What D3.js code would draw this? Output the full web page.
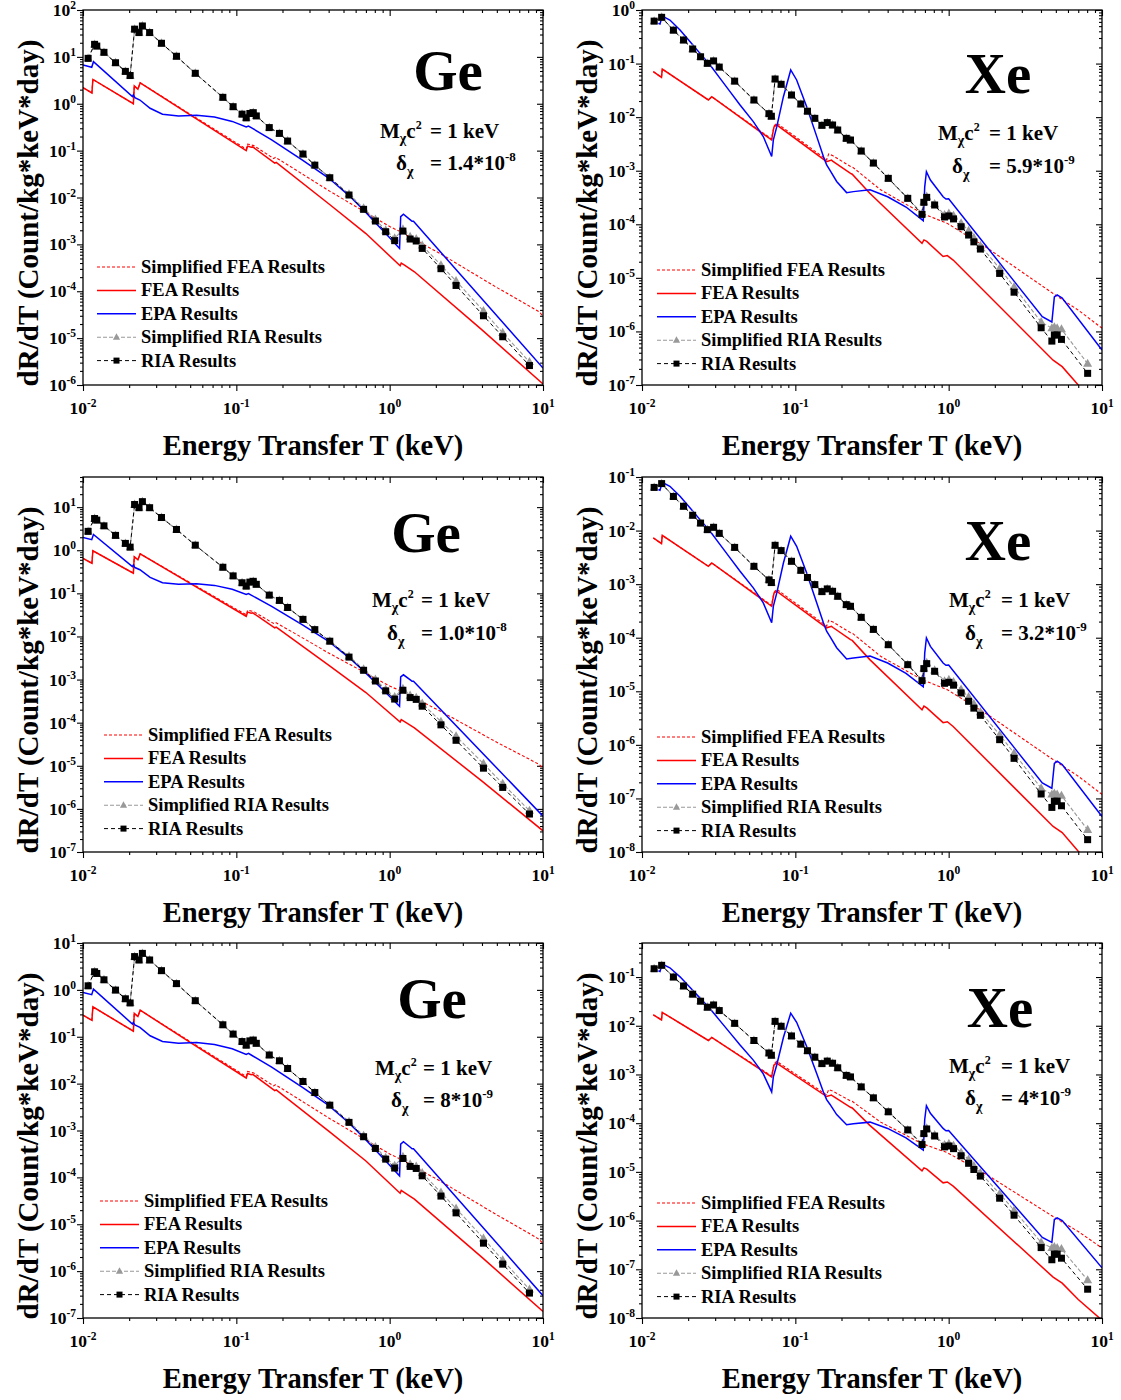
<!DOCTYPE html>
<html><head><meta charset="utf-8">
<script src="https://cdn.jsdelivr.net/npm/d3@7"></script>
<style>
body{margin:0;background:#fff;}
svg{display:block;}
text{font-family:"Liberation Serif","Times New Roman",serif;font-weight:bold;fill:#000;}
</style></head><body>
<svg id="chart" width="1121" height="1400"></svg>
<script>
// ---------------- Ge data (energy transfer T in keV) ----------------
const geSfeaT = [0.01,0.01143,0.0116,0.0213,0.0216,0.0228,0.0236,0.05,0.116,0.1185,0.13,0.175,0.18,0.25,0.408,0.7,1.0,1.2,2.2,5,8,9.5,10];
const geFeaT  = [0.01,0.01143,0.0116,0.0213,0.0216,0.0228,0.0236,0.05,0.116,0.1185,0.125,0.128,0.178,0.182,0.408,0.7,1.17,1.19,1.25,1.45,4,10];
const geEpaT  = [0.01,0.0114,0.0117,0.021,0.0213,0.0218,0.0235,0.0274,0.033,0.042,0.055,0.072,0.094,0.116,0.12,0.125,0.17,0.27,0.4,0.543,0.676,0.807,0.942,1.16,1.18,1.23,1.37,1.4,1.43,10];
const geRiaT  = [0.0108,0.0119,0.0123,0.0137,0.0163,0.0189,0.0203,0.0217,0.0232,0.0244,0.0272,0.0325,0.0407,0.054,0.0817,0.0953,0.109,0.116,0.1225,0.129,0.135,0.164,0.191,0.216,0.272,0.325,0.407,0.543,0.676,0.807,0.942,1.078,1.22,1.36,1.49,1.63,2.16,2.71,4.09,5.46,8.16];

// Ge, delta = 1.4e-8
const ge14Sfea = [2.2,1.7,3.3,1.0,2.4,2.05,2.8,0.6,0.108,0.138,0.128,0.068,0.072,0.037,0.0135,0.0048,0.0024,0.0018,6e-4,1.2e-4,5e-5,3.6e-5,2.9e-5];
const ge14Fea  = [2.2,1.7,3.3,1.0,2.4,2.05,2.8,0.58,0.10,0.125,0.118,0.12,0.054,0.056,0.0070,0.0017,3.5e-4,4.0e-4,3.6e-4,2.6e-4,1.5e-5,1.05e-6];
const ge14Epa  = [6.7,6.0,7.9,1.42,1.55,1.35,1.2,0.80,0.6,0.55,0.57,0.52,0.42,0.32,0.335,0.31,0.17,0.063,0.026,0.011,0.0054,0.0029,0.0017,8.2e-4,0.0039,0.0044,0.0033,0.0031,0.0031,2.3e-6];
const ge14Sria = [9.3,18.5,17,12.5,7.5,4.9,4.0,39,33,45.6,33,19.5,10.3,4.46,1.37,0.865,0.60,0.50,0.62,0.645,0.55,0.31,0.233,0.160,0.0846,0.049,0.0264,0.0118,0.0059,0.0034,0.0020,0.00135,0.0021,0.00145,0.0013,0.00095,0.00036,0.000165,3.8e-5,1.3e-5,3.1e-6];
const ge14Ria  = [9.3,18.5,17,12.5,7.5,4.9,4.0,39,33,45.6,33,19.5,10.3,4.46,1.37,0.865,0.60,0.50,0.62,0.645,0.55,0.31,0.233,0.160,0.0846,0.049,0.0264,0.0113,0.00559,0.00315,0.00186,0.0012,0.00192,0.0013,0.00118,0.00082,0.000303,0.000133,3.0e-5,1.07e-5,2.6e-6];

// Ge, delta = 1.0e-8
const ge10Sfea = [0.647,0.5,0.97,0.294,0.706,0.603,0.824,0.176,0.0318,0.0406,0.0376,0.02,0.0212,0.0109,0.00397,0.00141,0.000706,0.00053,0.000176,3.5e-5,1.47e-5,1.06e-5,8.5e-6];
const ge10Fea  = [0.647,0.5,0.97,0.294,0.706,0.603,0.824,0.171,0.0294,0.0368,0.0347,0.0353,0.0159,0.0165,0.00206,0.0005,1.03e-4,1.18e-4,1.06e-4,7.6e-5,4.4e-6,3.1e-7];
const ge10Epa  = [1.97,1.76,2.32,0.418,0.456,0.397,0.353,0.235,0.176,0.162,0.168,0.153,0.124,0.094,0.0985,0.091,0.05,0.0185,0.00765,0.00324,0.00159,0.000853,0.0005,0.000241,0.00115,0.00129,0.00097,0.00091,0.00091,6.8e-7];
const ge10Sria = [2.74,5.44,5.0,3.68,2.21,1.44,1.18,11.5,9.7,13.4,9.7,5.74,3.03,1.31,0.403,0.254,0.176,0.147,0.182,0.19,0.162,0.091,0.0685,0.047,0.0249,0.0144,0.00776,0.00347,0.00174,0.001,0.000588,0.000397,0.000618,0.000426,0.000382,0.000279,0.000106,4.85e-5,1.12e-5,3.82e-6,9.1e-7];
const ge10Ria  = [2.74,5.44,5.0,3.68,2.21,1.44,1.18,11.5,9.7,13.4,9.7,5.74,3.03,1.31,0.403,0.254,0.176,0.147,0.182,0.19,0.162,0.091,0.0685,0.047,0.0249,0.0144,0.00776,0.00332,0.00164,0.000926,0.000547,0.000353,0.000565,0.000382,0.000347,0.000241,8.9e-5,3.9e-5,8.8e-6,3.15e-6,7.6e-7];

// Ge, delta = 8e-9
const ge08Sfea = [0.289,0.224,0.434,0.132,0.316,0.27,0.368,0.079,0.0142,0.0182,0.0168,0.00895,0.00947,0.00487,0.00178,0.00063,0.000316,0.000237,7.9e-5,1.58e-5,6.6e-6,4.7e-6,3.8e-6];
const ge08Fea  = [0.289,0.224,0.434,0.132,0.316,0.27,0.368,0.0763,0.0132,0.0164,0.0155,0.0158,0.0071,0.00737,0.00092,0.000224,4.6e-5,5.26e-5,4.74e-5,3.42e-5,1.97e-6,1.38e-7];
const ge08Epa  = [0.88,0.79,1.04,0.187,0.204,0.178,0.158,0.105,0.079,0.0724,0.075,0.0684,0.0553,0.0421,0.0441,0.0408,0.0224,0.0083,0.00342,0.00145,0.00071,0.000382,0.000224,0.000108,0.000513,0.000579,0.000434,0.000408,0.000408,3.0e-7];
const ge08Sria = [1.22,2.43,2.24,1.64,0.99,0.645,0.526,5.13,4.34,6.0,4.34,2.57,1.36,0.587,0.180,0.114,0.079,0.066,0.0816,0.0849,0.0724,0.0408,0.0307,0.021,0.0111,0.00645,0.00347,0.00155,0.000776,0.000447,0.000263,0.000178,0.000276,0.000191,0.000171,0.000125,4.74e-5,2.17e-5,5.0e-6,1.71e-6,4.08e-7];
const ge08Ria  = [1.22,2.43,2.24,1.64,0.99,0.645,0.526,5.13,4.34,6.0,4.34,2.57,1.36,0.587,0.180,0.114,0.079,0.066,0.0816,0.0849,0.0724,0.0408,0.0307,0.021,0.0111,0.00645,0.00347,0.00149,0.000736,0.000414,0.000245,0.000158,0.000253,0.000171,0.000155,0.000108,3.99e-5,1.75e-5,3.95e-6,1.41e-6,3.4e-7];

// ---------------- Xe data ----------------
const xeSfeaT = [0.01185,0.0134,0.01356,0.0271,0.0285,0.0701,0.0708,0.0726,0.0755,0.16,0.165,0.176,0.229,0.235,0.36,0.67,0.98,1.8,4.8,7,10];
const xeFeaT  = [0.01185,0.0134,0.01356,0.0271,0.0285,0.0701,0.0708,0.0726,0.0755,0.16,0.172,0.176,0.229,0.235,0.306,0.67,0.69,0.72,0.92,0.98,1.07,4.8,5.5,7.0,10];
const xeEpaT  = [0.01277,0.0131,0.01355,0.0152,0.0177,0.0206,0.0239,0.0278,0.0323,0.0375,0.0436,0.0532,0.0618,0.0701,0.0719,0.0757,0.0836,0.0933,0.102,0.1186,0.138,0.1524,0.16,0.168,0.186,0.216,0.239,0.307,0.40,0.527,0.683,0.698,0.716,0.76,0.92,0.96,1.0,4.08,4.71,4.89,5.1,5.5,10];
const xeRiaT  = [0.0120,0.01343,0.01603,0.01866,0.0214,0.0241,0.0267,0.0293,0.0319,0.0402,0.0537,0.0673,0.0698,0.0738,0.0808,0.0944,0.1086,0.120,0.134,0.149,0.1615,0.175,0.189,0.215,0.229,0.269,0.323,0.404,0.541,0.67,0.689,0.719,0.81,0.94,1.003,1.076,1.205,1.349,1.46,1.61,2.15,2.67,4.01,4.71,4.89,5.1,5.44,8.06];

// Xe, delta = 5.9e-9
const xe59Sfea = [0.0706,0.0553,0.079,0.0209,0.0241,0.0039,0.0047,0.0068,0.0078,0.0016,0.00206,0.0019,0.0012,0.00118,4.4e-4,1.6e-4,1.04e-4,3.55e-5,5.1e-6,2.5e-6,1.15e-6];
const xe59Fea  = [0.0706,0.0553,0.079,0.0209,0.0241,0.00374,0.0045,0.0066,0.0072,0.00148,0.00158,0.0015,8.9e-4,8.6e-4,3.8e-4,4.4e-5,5.1e-5,4.8e-5,2.5e-5,2.6e-5,2.15e-5,2.9e-7,2.2e-7,1.0e-7,3.8e-8];
const xe59Epa  = [0.564,0.548,0.773,0.65,0.424,0.256,0.155,0.094,0.053,0.03,0.0169,0.00826,0.00434,0.00184,0.00376,0.00665,0.0241,0.076,0.0494,0.0157,0.00433,0.00184,0.00128,0.00103,6.3e-4,3.9e-4,4.07e-4,4.4e-4,3.27e-4,2.1e-4,1.17e-4,5e-4,9.6e-4,6.7e-4,3.27e-4,2.96e-4,3.0e-4,1.88e-6,1.5e-6,4.4e-6,4.8e-6,4.2e-6,4.5e-7];
const xe59Sria = [0.62,0.73,0.42,0.275,0.187,0.134,0.101,0.112,0.086,0.047,0.0209,0.0116,0.0104,0.0515,0.041,0.0259,0.0176,0.0129,0.0095,0.00703,0.0079,0.00713,0.00575,0.00402,0.00374,0.00233,0.00139,7.2e-4,3.05e-4,1.6e-4,2.6e-4,3.3e-4,2.4e-4,1.5e-4,1.6e-4,1.45e-4,1.05e-4,7.6e-5,5.6e-5,4.0e-5,1.5e-5,6.8e-6,1.5e-6,1.15e-6,1.2e-6,1.15e-6,1.1e-6,2.5e-7];
const xe59Ria  = [0.62,0.73,0.42,0.275,0.187,0.134,0.101,0.112,0.086,0.047,0.0209,0.0116,0.0104,0.0515,0.041,0.0259,0.0176,0.0129,0.0095,0.00703,0.0079,0.00713,0.00575,0.00402,0.00374,0.00233,0.00139,7.2e-4,3.05e-4,1.53e-4,2.57e-4,3.18e-4,2.29e-4,1.37e-4,1.43e-4,1.26e-4,9.0e-5,6.3e-5,4.7e-5,3.45e-5,1.21e-5,5.4e-6,1.17e-6,6.6e-7,8.6e-7,8.6e-7,7.1e-7,1.65e-7];

// Xe, delta = 3.2e-9
const xe32Sfea = [0.00728,0.0057,0.00814,0.00215,0.00248,0.000402,0.000485,0.000701,0.000804,0.000165,0.000212,0.000196,0.000124,0.000122,4.5e-5,1.65e-5,1.07e-5,3.66e-6,5.3e-7,2.6e-7,1.19e-7];
const xe32Fea  = [0.00728,0.0057,0.00814,0.00215,0.00248,0.000386,0.000464,0.00068,0.000742,0.000153,0.000163,0.000155,9.2e-5,8.9e-5,3.9e-5,4.5e-6,5.3e-6,4.9e-6,2.6e-6,2.7e-6,2.2e-6,3.0e-8,2.3e-8,1.03e-8,3.9e-9];
const xe32Epa  = [0.0581,0.0565,0.0797,0.067,0.0437,0.0264,0.016,0.0097,0.00546,0.00309,0.00174,0.000852,0.000447,0.00019,0.000388,0.000686,0.00248,0.00784,0.00509,0.00162,0.000446,0.00019,0.000132,0.000106,6.5e-5,4.02e-5,4.2e-5,4.54e-5,3.37e-5,2.16e-5,1.21e-5,5.15e-5,9.9e-5,6.9e-5,3.37e-5,3.05e-5,3.09e-5,1.94e-7,1.55e-7,4.5e-7,4.95e-7,4.3e-7,4.6e-8];
const xe32Sria = [0.0639,0.0753,0.0433,0.0284,0.0193,0.0138,0.0104,0.0115,0.00887,0.00485,0.00215,0.0012,0.00107,0.00531,0.00423,0.00267,0.00181,0.00133,0.00098,0.000725,0.000814,0.000735,0.000593,0.000414,0.000386,0.00024,0.000143,7.4e-5,3.14e-5,1.65e-5,2.68e-5,3.4e-5,2.47e-5,1.55e-5,1.65e-5,1.49e-5,1.08e-5,7.8e-6,5.8e-6,4.1e-6,1.55e-6,7.0e-7,1.55e-7,1.19e-7,1.24e-7,1.19e-7,1.13e-7,2.6e-8];
const xe32Ria  = [0.0639,0.0753,0.0433,0.0284,0.0193,0.0138,0.0104,0.0115,0.00887,0.00485,0.00215,0.0012,0.00107,0.00531,0.00423,0.00267,0.00181,0.00133,0.00098,0.000725,0.000814,0.000735,0.000593,0.000414,0.000386,0.00024,0.000143,7.4e-5,3.14e-5,1.58e-5,2.65e-5,3.28e-5,2.36e-5,1.41e-5,1.47e-5,1.3e-5,9.3e-6,6.5e-6,4.85e-6,3.56e-6,1.25e-6,5.6e-7,1.21e-7,6.8e-8,8.9e-8,8.9e-8,7.3e-8,1.7e-8];

// Xe, delta = 4e-9
const xe40Sfea = [0.0168,0.0132,0.0188,0.00498,0.00574,0.00093,0.00112,0.00162,0.00186,0.00038,0.00049,0.000452,0.000286,0.000281,0.000105,3.8e-5,2.48e-5,8.5e-6,1.21e-6,5.95e-7,2.74e-7];
const xe40Fea  = [0.0168,0.0132,0.0188,0.00498,0.00574,0.00089,0.00107,0.00157,0.00171,0.000352,0.000376,0.000357,0.000212,0.000205,9.0e-5,1.05e-5,1.21e-5,1.14e-5,5.95e-6,6.2e-6,5.1e-6,6.9e-8,5.2e-8,2.4e-8,9.0e-9];
const xe40Epa  = [0.134,0.130,0.184,0.155,0.101,0.061,0.0369,0.0224,0.0126,0.00714,0.00402,0.00197,0.00103,0.000438,0.000895,0.00158,0.00574,0.0181,0.0118,0.00374,0.00103,0.000438,0.000305,0.000245,0.00015,9.3e-5,9.7e-5,0.000105,7.8e-5,5.0e-5,2.79e-5,0.000119,0.000229,0.00016,7.8e-5,7.0e-5,7.1e-5,4.5e-7,3.57e-7,1.05e-6,1.14e-6,1.0e-6,1.07e-7];
const xe40Sria = [0.148,0.174,0.1,0.0655,0.0445,0.0319,0.024,0.0267,0.0205,0.0112,0.00498,0.00276,0.00248,0.0123,0.00976,0.00617,0.00419,0.00307,0.00226,0.00167,0.00188,0.0017,0.00137,0.000957,0.00089,0.000555,0.000331,0.000171,7.26e-5,3.8e-5,6.2e-5,7.9e-5,5.7e-5,3.57e-5,3.8e-5,3.45e-5,2.5e-5,1.81e-5,1.33e-5,9.5e-6,3.57e-6,1.62e-6,3.57e-7,2.74e-7,2.86e-7,2.74e-7,2.62e-7,6.0e-8];
const xe40Ria  = [0.148,0.174,0.1,0.0655,0.0445,0.0319,0.024,0.0267,0.0205,0.0112,0.00498,0.00276,0.00248,0.0123,0.00976,0.00617,0.00419,0.00307,0.00226,0.00167,0.00188,0.0017,0.00137,0.000957,0.00089,0.000555,0.000331,0.000171,7.26e-5,3.64e-5,6.1e-5,7.6e-5,5.45e-5,3.26e-5,3.4e-5,3.0e-5,2.14e-5,1.5e-5,1.12e-5,8.2e-6,2.88e-6,1.29e-6,2.79e-7,1.57e-7,2.05e-7,2.05e-7,1.69e-7,3.9e-8];

// axis / legend text
const xTickValues = [0.01,0.1,1,10];
const legendLabels = ["Simplified FEA Results","FEA Results","EPA Results","Simplified RIA Results","RIA Results"];
const xTitle = "Energy Transfer T (keV)";
const yTitle = "dR/dT (Count/kg*keV*day)";

// ---------------- layout ----------------
const W = 460, H = 375;
const panels = [
  {el:"Ge", left:83,  top:10,  yDom:[1e-6,1e2], d:["1.4*10","-8"], T:[geSfeaT,geFeaT,geEpaT,geRiaT], Y:[ge14Sfea,ge14Fea,ge14Epa,ge14Sria,ge14Ria],
   elX:448, elY:90, mX:380, mY:138, dX:396, dY:170, eqX:430, legX:97, legY:267, ytX:38},
  {el:"Xe", left:642, top:10,  yDom:[1e-7,1e0], d:["5.9*10","-9"], T:[xeSfeaT,xeFeaT,xeEpaT,xeRiaT], Y:[xe59Sfea,xe59Fea,xe59Epa,xe59Sria,xe59Ria],
   elX:998, elY:93, mX:938, mY:140, dX:952, dY:173, eqX:989, legX:657, legY:270, ytX:597},
  {el:"Ge", left:83,  top:477, yDom:[1e-7,50], d:["1.0*10","-8"], T:[geSfeaT,geFeaT,geEpaT,geRiaT], Y:[ge10Sfea,ge10Fea,ge10Epa,ge10Sria,ge10Ria],
   elX:426, elY:552, mX:372, mY:607, dX:387, dY:640, eqX:421, legX:104, legY:735, ytX:38},
  {el:"Xe", left:642, top:477, yDom:[1e-8,1e-1], d:["3.2*10","-9"], T:[xeSfeaT,xeFeaT,xeEpaT,xeRiaT], Y:[xe32Sfea,xe32Fea,xe32Epa,xe32Sria,xe32Ria],
   elX:998, elY:560, mX:949, mY:607, dX:965, dY:640, eqX:1001, legX:657, legY:737, ytX:597},
  {el:"Ge", left:83,  top:943, yDom:[1e-7,1e1], d:["8*10","-9"], T:[geSfeaT,geFeaT,geEpaT,geRiaT], Y:[ge08Sfea,ge08Fea,ge08Epa,ge08Sria,ge08Ria],
   elX:432, elY:1018, mX:375, mY:1075, dX:391, dY:1107, eqX:423, legX:100, legY:1201, ytX:38},
  {el:"Xe", left:642, top:943, yDom:[1e-8,0.5], d:["4*10","-9"], T:[xeSfeaT,xeFeaT,xeEpaT,xeRiaT], Y:[xe40Sfea,xe40Fea,xe40Epa,xe40Sria,xe40Ria],
   elX:1000, elY:1027, mX:949, mY:1073, dX:965, dY:1105, eqX:1001, legX:657, legY:1203, ytX:597}
];

const styles = [
  {color:"#ff0000", width:1.1, dash:"3,2", marker:null},
  {color:"#ff0000", width:1.5, dash:null, marker:null},
  {color:"#0000ff", width:1.5, dash:null, marker:null},
  {color:"#999999", width:1.1, dash:"4,2", marker:"tri"},
  {color:"#000000", width:1.0, dash:"4,3", marker:"sq"}
];

const svg = d3.select("#chart");
const defs = svg.append("defs");

function powLabel(sel, exp, baseSize, expSize, rise){
  sel.append("tspan").attr("font-size", baseSize).text("10");
  sel.append("tspan").attr("font-size", expSize).attr("dy", -rise).text(exp);
}

function logTicks(lo, hi){
  const maj = [], min = [];
  for (let e = Math.floor(Math.log10(lo)) ; e <= Math.ceil(Math.log10(hi)); e++){
    for (let k = 1; k <= 9; k++){
      const v = k * Math.pow(10, e);
      if (v < lo*0.999 || v > hi*1.001) continue;
      if (k === 1) maj.push(v); else min.push(v);
    }
  }
  return {maj, min};
}

function drawMarker(g, type, cx, cy, size, color){
  if (type === "sq"){
    g.append("rect").attr("x", cx-size/2).attr("y", cy-size/2).attr("width", size).attr("height", size).attr("fill", color);
  } else if (type === "tri"){
    const s = size*0.6;
    g.append("path").attr("d", `M${cx},${cy-s*1.1}L${cx+s},${cy+s*0.7}L${cx-s},${cy+s*0.7}Z`).attr("fill", color);
  }
}

panels.forEach((p, i) => {
  const x = d3.scaleLog().domain([0.01, 10]).range([p.left, p.left + W]);
  const y = d3.scaleLog().domain(p.yDom).range([p.top + H, p.top]);
  const cid = "clip" + i;
  defs.append("clipPath").attr("id", cid).append("rect")
    .attr("x", p.left).attr("y", p.top).attr("width", W).attr("height", H);

  const g = svg.append("g");
  const xt = logTicks(0.01, 10), yt = logTicks(p.yDom[0], p.yDom[1]);

  const mkAxis = (axisFn, scale, vals, size, transform) => {
    const a = g.append("g").attr("transform", transform)
      .call(axisFn(scale).tickValues(vals).tickSize(size).tickFormat(""));
    a.select(".domain").remove();
    a.selectAll("line").attr("stroke", "#000").attr("stroke-width", 1.1);
  };
  mkAxis(d3.axisBottom, x, xt.maj, 6, `translate(0,${p.top+H})`);
  mkAxis(d3.axisBottom, x, xt.min, 3, `translate(0,${p.top+H})`);
  mkAxis(d3.axisBottom, x, xt.maj, 6, `translate(0,${p.top})`);
  mkAxis(d3.axisBottom, x, xt.min, 3, `translate(0,${p.top})`);
  mkAxis(d3.axisLeft, y, yt.maj, 6, `translate(${p.left},0)`);
  mkAxis(d3.axisLeft, y, yt.min, 3, `translate(${p.left},0)`);
  mkAxis(d3.axisLeft, y, yt.maj, 6, `translate(${p.left+W},0)`);
  mkAxis(d3.axisLeft, y, yt.min, 3, `translate(${p.left+W},0)`);

  xTickValues.forEach(v => {
    const t = g.append("text").attr("x", x(v)).attr("y", p.top + H + 29).attr("text-anchor", "middle");
    powLabel(t, String(Math.round(Math.log10(v))), 17.5, 11.5, 7);
  });
  yt.maj.forEach(v => {
    const t = g.append("text").attr("x", p.left - 7).attr("y", y(v) + 6).attr("text-anchor", "end");
    powLabel(t, String(Math.round(Math.log10(v))), 17.5, 11.5, 7);
  });

  g.append("text").attr("x", p.left + W/2).attr("y", p.top + 445).attr("text-anchor", "middle")
    .attr("font-size", 28.5).text(xTitle);
  g.append("text").attr("transform", `translate(${p.ytX},${p.top + 203}) rotate(-90)`)
    .attr("text-anchor", "middle").attr("font-size", 29).text(yTitle);

  const plot = g.append("g").attr("clip-path", `url(#${cid})`);
  const line = d3.line().x(d => x(d[0])).y(d => y(d[1]));
  const tArr = [p.T[0], p.T[1], p.T[2], p.T[3], p.T[3]];
  styles.forEach((s, k) => {
    const data = d3.zip(tArr[k], p.Y[k]);
    plot.append("path").datum(data).attr("d", line).attr("fill", "none")
      .attr("stroke", s.color).attr("stroke-width", s.width)
      .attr("stroke-dasharray", s.dash);
    if (s.marker){
      const mg = plot.append("g");
      data.forEach(d => drawMarker(mg, s.marker, x(d[0]), y(d[1]), s.marker === "sq" ? 7 : 7.5, s.marker === "tri" ? "#999999" : "#000"));
    }
  });

  g.append("rect").attr("x", p.left).attr("y", p.top).attr("width", W).attr("height", H)
    .attr("fill", "none").attr("stroke", "#000").attr("stroke-width", 1.3);

  g.append("text").attr("x", p.elX).attr("y", p.elY).attr("text-anchor", "middle")
    .attr("font-size", 57).text(p.el);

  const m = g.append("text").attr("x", p.mX).attr("y", p.mY).attr("font-size", 21);
  m.append("tspan").text("M");
  m.append("tspan").attr("font-size", 14).attr("dy", 5).text("χ");
  m.append("tspan").attr("dy", -5).text("c");
  m.append("tspan").attr("font-size", 12).attr("dy", -9).text("2");
  g.append("text").attr("x", p.eqX).attr("y", p.mY).attr("font-size", 21).text("= 1 keV");

  const dl = g.append("text").attr("x", p.dX).attr("y", p.dY).attr("font-size", 21);
  dl.append("tspan").text("δ");
  dl.append("tspan").attr("font-size", 14).attr("dy", 6).text("χ");
  const dv = g.append("text").attr("x", p.eqX).attr("y", p.dY).attr("font-size", 21);
  dv.append("tspan").text("= " + p.d[0]);
  dv.append("tspan").attr("font-size", 13).attr("dy", -9).text(p.d[1]);

  styles.forEach((s, k) => {
    const ly = p.legY + k * 23.4;
    g.append("line").attr("x1", p.legX).attr("x2", p.legX + 39).attr("y1", ly).attr("y2", ly)
      .attr("stroke", s.color).attr("stroke-width", s.width).attr("stroke-dasharray", s.dash);
    if (s.marker) drawMarker(g, s.marker, p.legX + 19.5, ly, 6, s.marker === "tri" ? "#999999" : "#000");
    g.append("text").attr("x", p.legX + 44).attr("y", ly + 6).attr("font-size", 18.5).text(legendLabels[k]);
  });
});
</script>
</body></html>
